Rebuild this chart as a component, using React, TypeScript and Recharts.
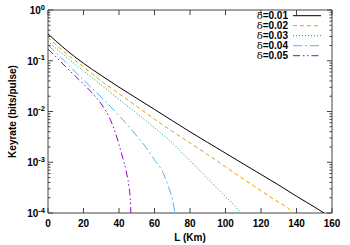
import React from "react";
import { LineChart, Line, XAxis, YAxis, ReferenceArea } from "recharts";

// distances (km) and key rates (bits/pulse)
const L_001 = [0, 10, 20, 30, 40, 50, 60, 70, 80, 90, 100, 110, 120, 130, 140, 150, 155.5];
const K_001 = [0.339, 0.166, 0.0891, 0.0513, 0.0302, 0.0182, 0.011, 0.0066, 0.00398, 0.00245, 0.00151, 0.00093, 0.000575, 0.000355, 0.000214, 0.000132, 0.0001];

const L_002 = [0, 10, 20, 30, 40, 50, 60, 70, 80, 90, 100, 110, 120, 130, 135, 138];
const K_002 = [0.288, 0.141, 0.0759, 0.0398, 0.0224, 0.0126, 0.00708, 0.00407, 0.0024, 0.00141, 0.000813, 0.000468, 0.000275, 0.000162, 0.000126, 0.0001];

const L_003 = [0, 10, 20, 30, 40, 50, 60, 70, 80, 90, 100, 105, 108.5];
const K_003 = [0.24, 0.12, 0.0631, 0.0331, 0.0174, 0.00912, 0.00479, 0.0024, 0.00107, 0.000479, 0.000209, 0.000141, 0.0001];

const L_004 = [0, 10, 20, 30, 40, 50, 55, 60, 65, 68, 70, 71.5];
const K_004 = [0.204, 0.0933, 0.0417, 0.0191, 0.00832, 0.00331, 0.002, 0.00112, 0.000603, 0.000316, 0.000191, 0.0001];

const L_005 = [0, 5, 10, 15, 20, 25, 30, 35, 38, 40, 42, 44, 45.5, 46.3, 46.7];
const K_005 = [0.17, 0.115, 0.0759, 0.0513, 0.0347, 0.0229, 0.0141, 0.00708, 0.0038, 0.00224, 0.00126, 0.000676, 0.000355, 0.0002, 0.0001];

const deltas = ["0.01", "0.02", "0.03", "0.04", "0.05"];
const xTicks = [0, 20, 40, 60, 80, 100, 120, 140, 160];
const yMajor = [1e-4, 1e-3, 1e-2, 1e-1, 1];
const yExp = ["-4", "-3", "-2", "-1", "0"];

const colors = ["#000000", "#e69f00", "#009e73", "#56b4e9", "#9400d3"];
const dashes = ["", "4 3", "1 2", "9 3 2 3", "7 3 1.5 2.5 1.5 3"];

const toRows = (ls: number[], ks: number[]) => ls.map((L, i) => ({ L, K: ks[i] }));
const series = [
  toRows(L_001, K_001),
  toRows(L_002, K_002),
  toRows(L_003, K_003),
  toRows(L_004, K_004),
  toRows(L_005, K_005),
];

const yMinor = yMajor.slice(0, -1).flatMap((m) => [2, 3, 4, 5, 6, 7, 8, 9].map((k) => k * m));
const yTicks = [...yMajor, ...yMinor];

const W = 350;
const H = 245;
const PL = 48;
const PR = 332;
const PT = 10;
const PB = 213;
const AX = "#444";
const FONT = "'Liberation Sans', Arial, sans-serif";

function majorIndex(v: number) {
  return yMajor.findIndex((m) => Math.abs(Math.log10(m) - Math.log10(v)) < 1e-6);
}

function YTick(props: any) {
  const { y, payload } = props;
  const i = majorIndex(payload.value);
  const len = i >= 0 ? 5 : 2.5;
  return (
    <g>
      <line x1={PL} x2={PL + len} y1={y} y2={y} stroke={AX} />
      <line x1={PR} x2={PR - len} y1={y} y2={y} stroke={AX} />
      {i >= 0 && (
        <text x={PL - 3} y={y + 4} textAnchor="end" fontSize={10} fontWeight="bold" fontFamily={FONT} fill="#000">
          10
          <tspan dy={-4.5} fontSize={7.5}>{yExp[i]}</tspan>
        </text>
      )}
    </g>
  );
}

function XTick(props: any) {
  const { x, payload } = props;
  return (
    <g>
      <line x1={x} x2={x} y1={PB} y2={PB - 5} stroke={AX} />
      <line x1={x} x2={x} y1={PT} y2={PT + 5} stroke={AX} />
      <text x={x} y={PB + 13.5} textAnchor="middle" fontSize={10} fontWeight="bold" fontFamily={FONT} fill="#000">
        {payload.value}
      </text>
    </g>
  );
}

export default function App() {
  return (
    <div style={{ position: "absolute", left: 0, top: 0, width: W, height: H, background: "#fff" }}>
      <LineChart width={W} height={H} margin={{ top: PT, right: W - PR, bottom: 0, left: 0 }}>
        <XAxis
          dataKey="L"
          type="number"
          domain={[0, 160]}
          ticks={xTicks}
          interval={0}
          height={H - PB}
          tickLine={false}
          tickSize={0}
          tickMargin={0}
          axisLine={false}
          tick={<XTick />}
        />
        <YAxis
          type="number"
          scale="log"
          domain={[1e-4, 1]}
          allowDataOverflow
          ticks={yTicks}
          interval={0}
          width={PL}
          tickLine={false}
          tickSize={0}
          tickMargin={0}
          axisLine={false}
          tick={<YTick />}
        />
        <ReferenceArea x1={0} x2={160} y1={1e-4} y2={1} fill="none" stroke={AX} strokeWidth={1} />
        {series.map((d, i) => (
          <Line
            key={deltas[i]}
            data={d}
            dataKey="K"
            name={"δ=" + deltas[i]}
            type="monotone"
            stroke={colors[i]}
            strokeWidth={1}
            strokeDasharray={dashes[i] || undefined}
            dot={false}
            activeDot={false}
            isAnimationActive={false}
          />
        ))}
      </LineChart>
      <svg width={W} height={H} style={{ position: "absolute", left: 0, top: 0, pointerEvents: "none" }}>
        <text
          x={12}
          y={(PT + PB) / 2}
          transform={`rotate(-90 12 ${(PT + PB) / 2})`}
          textAnchor="middle"
          dominantBaseline="central"
          fontSize={10}
          fontWeight="bold"
          fontFamily={FONT}
        >
          Keyrate (bits/pulse)
        </text>
        <text x={(PL + PR) / 2} y={241} textAnchor="middle" fontSize={10} fontWeight="bold" fontFamily={FONT}>
          L (Km)
        </text>
        {deltas.map((d, i) => {
          const y = 15.7 + 10 * i;
          return (
            <g key={d}>
              <text x={288} y={y + 3.5} textAnchor="end" fontSize={10} fontWeight="bold" fontFamily={FONT}>
                <tspan fontFamily="'DejaVu Serif', serif" fontWeight="normal">δ</tspan>={d}
              </text>
              <line
                x1={293}
                x2={321}
                y1={y}
                y2={y}
                stroke={colors[i]}
                strokeWidth={1}
                strokeDasharray={dashes[i] || undefined}
              />
            </g>
          );
        })}
      </svg>
    </div>
  );
}
